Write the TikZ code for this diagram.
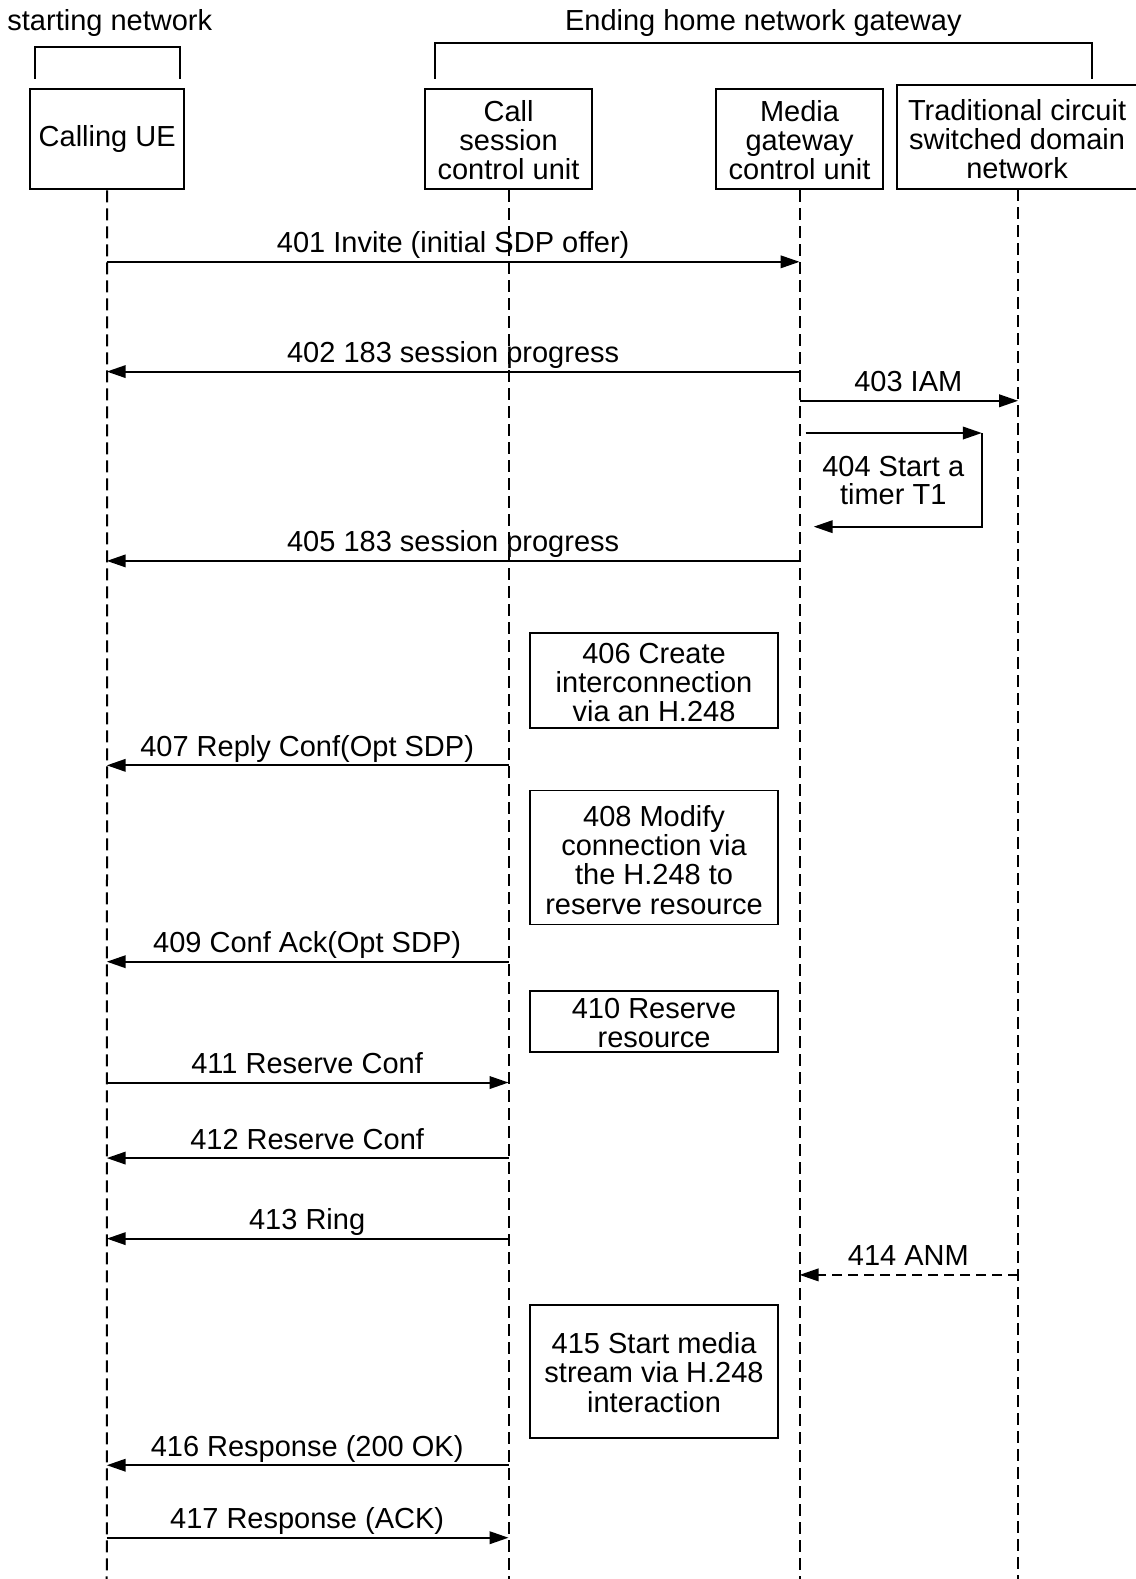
\documentclass[tikz,border=0pt]{standalone}
\usepackage{fontspec}
\setmainfont{Liberation Sans}
\usetikzlibrary{arrows.meta,fit}
\begin{document}
\begin{tikzpicture}[x=1.007pt,y=-1.007pt,
  every node/.style={font=\fontsize{29}{29.2}\selectfont},
  head/.style={draw,line width=1.9pt,inner sep=0pt},
  actbox/.style={draw,line width=1.9pt,inner sep=0pt},
  txt/.style={align=center,inner sep=0pt},
  life/.style={line width=2pt,dash pattern=on 12pt off 6pt},
  msg/.style={line width=2.1pt,-{Triangle[length=19pt,width=12.5pt]}},
  dmsg/.style={msg,dash pattern=on 10pt off 6pt},
  lbl/.style={anchor=base,inner sep=0pt},
  brk/.style={line width=1.9pt}]
\useasboundingbox (0,0) rectangle (1127.1,1568);
% group labels and brackets
\node[lbl] (sn) at (109,30) {starting network};
\node[lbl] (eh) at (758,30) {Ending home network gateway};
\draw[brk] (35,78) -- (35,47) -- (179,47) -- (179,78);
\draw[brk] (432,78) -- (432,43) -- (1084,43) -- (1084,78);
% heads
\node[head,fit={(30,88) (183,188)}] (ue) {};
\node[txt] (ueT) at (106.5,138) {Calling UE};
\node[head,fit={(422,88) (588,188)}] (cs) {};
\node[txt] (csT) at (505,139) {Call\\session\\control unit};
\node[head,fit={(711,88) (877,188)}] (mg) {};
\node[txt] (mgT) at (794,139) {Media\\gateway\\control unit};
\node[head,fit={(891,84) (1131,188)}] (tc) {};
\node[txt] (tcT) at (1010,138) {Traditional circuit\\switched domain\\network};
% lifelines
\coordinate (ueE) at (106,1575);
\coordinate (csE) at (505,1575);
\coordinate (mgE) at (794,1575);
\coordinate (tcS) at (1011,188);
\coordinate (tcE) at (1011,1575);
\draw[life] (ue.south) -- (ueE);
\draw[life] (cs.south) -- (csE);
\draw[life] (mg.south) -- (mgE);
\draw[life] (tcS) -- (tcE);
% 401
\coordinate (a1) at (106,260); \coordinate (b1) at (794,260);
\draw[msg] (a1) -- (b1);
\node[lbl] (l401) at (450,251) {401 Invite (initial SDP offer)};
% 402
\coordinate (a2) at (794,369); \coordinate (b2) at (106,369);
\draw[msg] (a2) -- (b2);
\node[lbl] (l402) at (450,360) {402 183 session progress};
% 403
\coordinate (a3) at (794,398); \coordinate (b3) at (1011,398);
\draw[msg] (a3) -- (b3);
\node[lbl] (l403) at (902,389) {403 IAM};
% 404
\coordinate (a4) at (800,430); \coordinate (c4) at (975,430);
\coordinate (d4) at (975,523); \coordinate (b4) at (808,523);
\draw[msg] (a4) -- (c4);
\draw[msg] (c4) -- (d4) -- (b4);
\node[lbl] (l404a) at (887,473) {404 Start a};
\node[lbl] (l404b) at (887,501) {timer T1};
% 405
\coordinate (a5) at (794,557); \coordinate (b5) at (106,557);
\draw[msg] (a5) -- (b5);
\node[lbl] (l405) at (450,548) {405 183 session progress};
% 406
\node[actbox,fit={(526,629) (773,723)}] (s406) {};
\node[txt] (t406) at (649.5,678) {406 Create\\interconnection\\via an H.248};
% 407
\coordinate (a7) at (505,760); \coordinate (b7) at (106,760);
\draw[msg] (a7) -- (b7);
\node[lbl] (l407) at (305,751) {407 Reply Conf(Opt SDP)};
% 408
\node[actbox,fit={(526,785) (773,918)}] (s408) {};
\node[txt] (t408) at (649.5,854) {408 Modify\\connection via\\the H.248 to\\reserve resource};
% 409
\coordinate (a9) at (505,955); \coordinate (b9) at (106,955);
\draw[msg] (a9) -- (b9);
\node[lbl] (l409) at (305,946) {409 Conf Ack(Opt SDP)};
% 410
\node[actbox,fit={(526,984) (773,1045)}] (s410) {};
\node[txt] (t410) at (649.5,1015.5) {410 Reserve\\resource};
% 411
\coordinate (a11) at (106,1075); \coordinate (b11) at (505,1075);
\draw[msg] (a11) -- (b11);
\node[lbl] (l411) at (305,1066) {411 Reserve Conf};
% 412
\coordinate (a12) at (505,1150); \coordinate (b12) at (106,1150);
\draw[msg] (a12) -- (b12);
\node[lbl] (l412) at (305,1141) {412 Reserve Conf};
% 413
\coordinate (a13) at (505,1230); \coordinate (b13) at (106,1230);
\draw[msg] (a13) -- (b13);
\node[lbl] (l413) at (305,1221) {413 Ring};
% 414
\coordinate (a14) at (1011,1266); \coordinate (b14) at (794,1266);
\draw[dmsg] (a14) -- (b14);
\node[lbl] (l414) at (902,1257) {414 ANM};
% 415
\node[actbox,fit={(526,1296) (773,1428)}] (s415) {};
\node[txt] (t415) at (649.5,1363) {415 Start media\\stream via H.248\\interaction};
% 416
\coordinate (a16) at (505,1455); \coordinate (b16) at (106,1455);
\draw[msg] (a16) -- (b16);
\node[lbl] (l416) at (305,1446) {416 Response (200 OK)};
% 417
\coordinate (a17) at (106,1527); \coordinate (b17) at (505,1527);
\draw[msg] (a17) -- (b17);
\node[lbl] (l417) at (305,1518) {417 Response (ACK)};
\end{tikzpicture}
\end{document}
